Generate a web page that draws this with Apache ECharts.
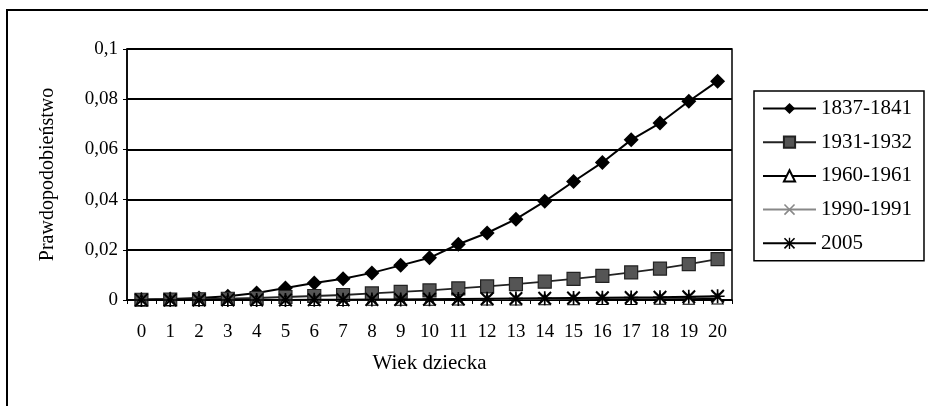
<!DOCTYPE html>
<html>
<head>
<meta charset="utf-8">
<script src="https://cdn.jsdelivr.net/npm/echarts@6/dist/echarts.min.js"></script>
<style>
	html, body { margin: 0; padding: 0; background: #fff; }
	#chart { width: 928px; height: 406px; }
</style>
</head>
<body>
<div id="chart"></div>
<script>
// ages 0..20
var ages = ['0', '1', '2', '3', '4', '5', '6', '7', '8', '9', '10', '11', '12', '13', '14', '15', '16', '17', '18', '19', '20'];
var yTicks = [0, 0.02, 0.04, 0.06, 0.08, 0.1];

var p1837 = [0.0002, 0.0004, 0.0008, 0.0015, 0.0028, 0.0048, 0.0068, 0.0085, 0.0108, 0.0138, 0.0168, 0.0222, 0.0267, 0.0322, 0.0393, 0.0472, 0.0548, 0.0638, 0.0705, 0.0792, 0.0872];
var p1931 = [0.0001, 0.0002, 0.0003, 0.0005, 0.0008, 0.0012, 0.0016, 0.002, 0.0026, 0.0032, 0.0038, 0.0046, 0.0054, 0.0063, 0.0073, 0.0084, 0.0096, 0.011, 0.0125, 0.0143, 0.0163];
var p1960 = [0, 0, 0, 0, 0, 0, 0, 0, 0.0001, 0.0001, 0.0001, 0.0002, 0.0002, 0.0002, 0.0003, 0.0003, 0.0004, 0.0004, 0.0005, 0.0005, 0.0006];
var p1990 = [0, 0, 0, 0, 0, 0, 0.0001, 0.0001, 0.0001, 0.0002, 0.0002, 0.0003, 0.0003, 0.0004, 0.0005, 0.0006, 0.0007, 0.0008, 0.0009, 0.001, 0.0012];
var p2005 = [0, 0, 0, 0, 0, 0, 0.0001, 0.0001, 0.0002, 0.0002, 0.0003, 0.0004, 0.0005, 0.0006, 0.0007, 0.0008, 0.0009, 0.001, 0.0011, 0.0013, 0.0015];

var serif = '"Liberation Serif", "DejaVu Serif", serif';

// custom marker shapes
var crossPath = 'path://M0,1L1,0L5,4L9,0L10,1L6,5L10,9L9,10L5,6L1,10L0,9L4,5Z';
var starPath = 'path://M0,1L1,0L5,4L9,0L10,1L6,5L10,9L9,10L5,6L1,10L0,9L4,5Z M4.4,0L5.6,0L5.6,10L4.4,10Z M0,4.4L10,4.4L10,5.6L0,5.6Z';

function lineSeries(name, data, symbol, size, lineColor, lineWidth, fill, border) {
	return {
		name: name,
		type: 'line',
		data: data,
		symbol: symbol,
		symbolSize: size,
		showAllSymbol: true,
		lineStyle: { color: lineColor, width: lineWidth },
		itemStyle: { color: fill, borderColor: border, borderWidth: border ? 1.2 : 0 },
		emphasis: { disabled: true },
		animation: false
	};
}

var chart = echarts.init(document.getElementById('chart'));
var option = {
	backgroundColor: '#fff',
	graphic: [{
		type: 'rect',
		shape: { x: 7, y: 10, width: 960, height: 440 },
		style: { fill: 'none', stroke: '#000', lineWidth: 2 },
		silent: true
	}],
	grid: {
		left: 127,
		right: 196,
		top: 49,
		bottom: 106,
		show: true,
		borderColor: '#000',
		borderWidth: 1.5,
		backgroundColor: 'transparent'
	},
	legend: {
		orient: 'vertical',
		left: 754,
		top: 91,
		padding: [7, 12, 7, 8],
		borderColor: '#000',
		borderWidth: 1.5,
		itemWidth: 53,
		itemHeight: 14,
		itemGap: 12.7,
		textStyle: { fontFamily: serif, fontSize: 21, color: '#000' },
		data: ['1837-1841', '1931-1932', '1960-1961', '1990-1991', '2005']
	},
	xAxis: {
		type: 'category',
		data: ages,
		boundaryGap: true,
		name: 'Wiek dziecka',
		nameLocation: 'middle',
		nameGap: 53,
		nameTextStyle: { fontFamily: serif, fontSize: 21, color: '#000' },
		axisLine: { lineStyle: { color: '#000', width: 1.5 } },
		axisTick: { show: true, length: 4, lineStyle: { color: '#000' } },
		axisLabel: { fontFamily: serif, fontSize: 19, color: '#000', margin: 23, interval: 0 }
	},
	yAxis: {
		type: 'value',
		min: yTicks[0],
		max: yTicks[yTicks.length - 1],
		interval: 0.02,
		name: 'Prawdopodobieństwo',
		nameLocation: 'middle',
		nameGap: 69,
		nameTextStyle: { fontFamily: serif, fontSize: 20, color: '#000' },
		axisLine: { show: true, lineStyle: { color: '#000', width: 1.5 } },
		axisTick: { show: true, length: 4, lineStyle: { color: '#000' } },
		splitLine: { lineStyle: { color: '#000', width: 2 } },
		axisLabel: {
			fontFamily: serif, fontSize: 19, color: '#000', margin: 9,
			formatter: function (v) {
				return v === 0 ? '0' : String(+v.toFixed(2)).replace('.', ',');
			}
		}
	},
	series: [
		lineSeries('1837-1841', p1837, 'diamond', 15, '#000', 2, '#000', null),
		lineSeries('1931-1932', p1931, 'rect', 13, '#222', 1.8, '#555', '#222'),
		lineSeries('1960-1961', p1960, 'triangle', 11, '#000', 1.5, '#fff', '#000'),
		lineSeries('1990-1991', p1990, crossPath, 12, '#888', 1.5, '#888', null),
		lineSeries('2005', p2005, starPath, 14, '#000', 2, '#000', null)
	]
};
chart.setOption(option);
</script>
</body>
</html>
